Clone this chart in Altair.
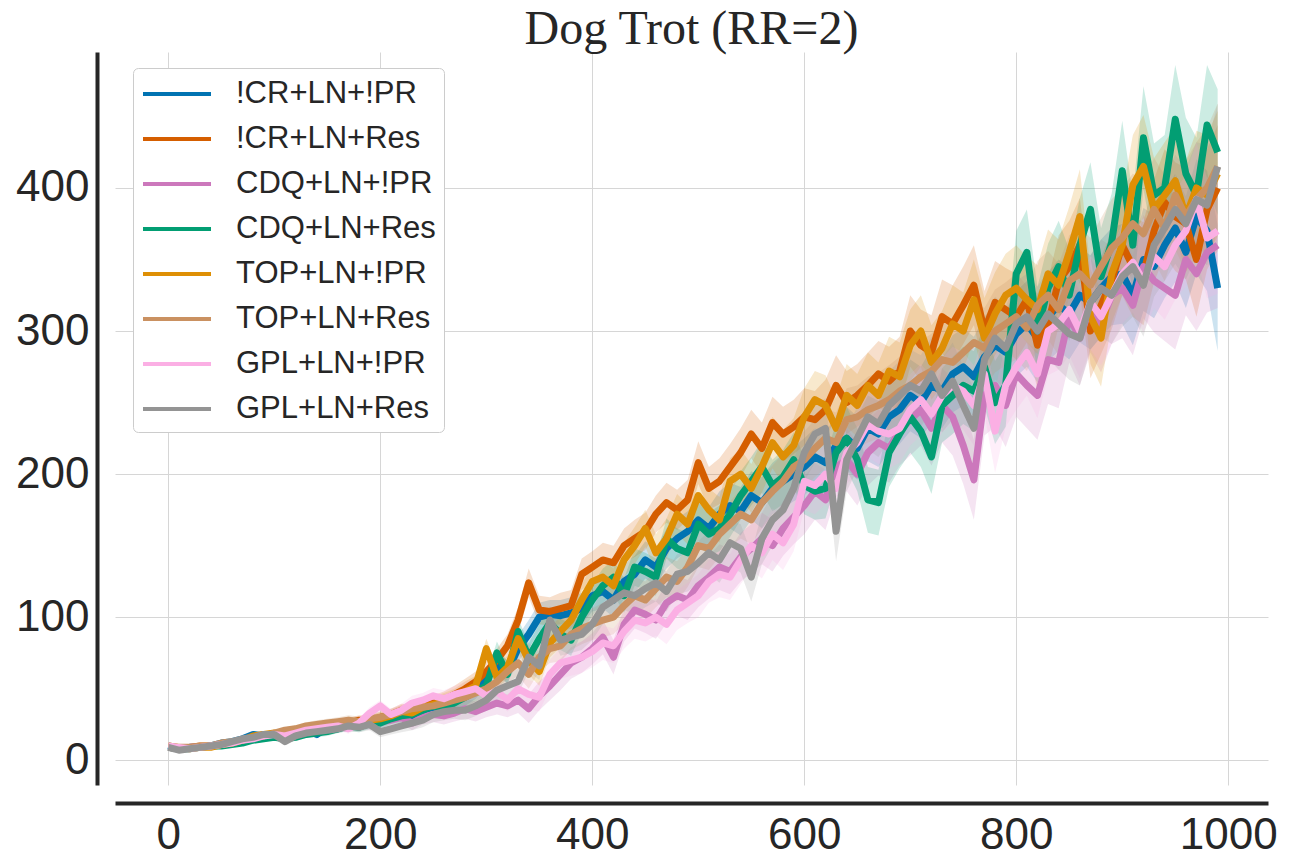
import altair as alt
import pandas as pd

steps = list(range(0, 1000, 10))

series_names = ["!CR+LN+!PR", "!CR+LN+Res", "CDQ+LN+!PR", "CDQ+LN+Res",
                "TOP+LN+!PR", "TOP+LN+Res", "GPL+LN+!PR", "GPL+LN+Res"]
series_colors = ["#0173b2", "#d55e00", "#cc78bc", "#029e73",
                 "#de8f05", "#ca9161", "#fbafe4", "#949494"]

cr_pr = [10, 8, 9, 9, 10, 12, 13, 15, 18, 17,
         18, 17, 20, 22, 18, 23, 22, 26, 24, 28,
         27, 30, 33, 31, 35, 37, 38, 41, 45, 50,
         58, 66, 62, 78, 88, 100, 102, 101, 103, 106,
         115, 118, 112, 125, 130, 140, 135, 148, 155, 160,
         168, 162, 172, 178, 174, 185, 180, 190, 195, 200,
         205, 212, 208, 220, 225, 218, 232, 228, 240, 245,
         255, 250, 262, 258, 270, 275, 268, 282, 290, 285,
         298, 305, 295, 310, 318, 312, 325, 320, 330, 338,
         340, 325, 350, 345, 360, 372, 355, 380, 370, 330]

cr_res = [9, 8, 9, 10, 10, 11, 12, 14, 16, 18,
          18, 19, 20, 22, 21, 24, 23, 26, 28, 27,
          30, 32, 35, 34, 38, 40, 42, 46, 50, 55,
          62, 70, 80, 98, 124, 105, 104, 106, 108, 130,
          135, 140, 138, 150, 155, 160, 172, 180, 175, 182,
          208, 190, 195, 205, 215, 228, 218, 236, 228, 233,
          240, 238, 245, 262, 250, 255, 262, 270, 265, 272,
          300, 290, 285, 310, 305, 318, 332, 300, 320, 315,
          310, 322, 290, 305, 335, 345, 360, 300, 318, 335,
          360, 345, 340, 370, 390, 380, 375, 350, 385, 400]

cdq_pr = [9, 8, 9, 9, 10, 11, 12, 14, 15, 16,
          17, 18, 19, 20, 21, 22, 24, 23, 26, 25,
          27, 28, 30, 26, 30, 32, 31, 33, 36, 34,
          37, 40, 38, 42, 36, 45, 52, 60, 68, 72,
          78, 86, 72, 95, 105, 102, 98, 110, 115, 112,
          122, 128, 135, 132, 142, 148, 155, 150, 162, 170,
          178, 188, 182, 205, 210, 200, 215, 222, 218, 230,
          238, 245, 232, 248, 240, 220, 196, 255, 262, 248,
          270, 262, 255, 280, 278, 310, 295, 318, 305, 325,
          330, 318, 345, 335, 330, 325, 350, 340, 355, 360]

cdq_res = [9, 8, 8, 9, 10, 10, 11, 12, 14, 15,
           16, 15, 16, 18, 19, 20, 22, 24, 23, 26,
           26, 29, 31, 32, 35, 38, 36, 40, 44, 48,
           52, 75, 60, 90, 72, 85, 96, 88, 84, 100,
           112, 122, 128, 115, 135, 132, 128, 155, 148, 145,
           165, 158, 162, 172, 185, 195, 205, 192, 198, 210,
           192, 188, 190, 215, 225, 210, 182, 180, 215, 228,
           240, 230, 212, 248, 255, 262, 258, 275, 250, 262,
           340, 355, 300, 330, 345, 325, 360, 385, 338, 362,
           412, 360, 435, 395, 400, 448, 410, 395, 444, 425]

top_pr = [10, 9, 8, 9, 9, 11, 12, 14, 17, 18,
          19, 18, 21, 22, 23, 24, 25, 27, 26, 28,
          29, 31, 34, 33, 37, 39, 41, 44, 48, 52,
          78, 58, 65, 85, 70, 62, 82, 90, 98, 112,
          125, 128, 122, 140, 150, 162, 145, 155, 172, 165,
          185, 175, 168, 195, 200, 190, 205, 222, 212, 220,
          240, 252, 248, 232, 255, 248, 262, 255, 272, 268,
          290, 300, 278, 288, 305, 300, 322, 295, 312, 325,
          330, 322, 315, 340, 332, 355, 380, 310, 295, 340,
          360, 402, 415, 385, 395, 405, 380, 400, 395, 410]

top_res = [10, 9, 9, 10, 10, 12, 13, 14, 16, 17,
           19, 21, 22, 24, 25, 26, 27, 28, 27, 29,
           30, 32, 34, 36, 37, 38, 40, 42, 44, 47,
           50, 55, 62, 68, 60, 72, 78, 80, 88, 92,
           95, 98, 100, 108, 115, 112, 120, 128, 125, 135,
           150, 148, 158, 165, 172, 168, 180, 188, 195, 205,
           210, 218, 225, 222, 238, 240, 245, 248, 252, 258,
           262, 268, 272, 280, 278, 285, 292, 288, 300, 305,
           310, 302, 318, 325, 315, 335, 340, 332, 345, 358,
           365, 375, 368, 385, 372, 395, 380, 392, 400, 415]

gpl_pr = [10, 9, 8, 9, 10, 11, 12, 14, 15, 17,
          18, 17, 19, 21, 22, 23, 24, 22, 26, 33,
          38, 32, 35, 40, 42, 45, 43, 46, 48, 50,
          45, 48, 42, 50, 46, 44, 60, 68, 70, 72,
          76, 82, 80, 90, 98, 96, 100, 95, 105, 110,
          115, 125, 130, 128, 140, 150, 145, 158, 152, 165,
          195, 192, 200, 190, 215, 222, 235, 230, 228, 232,
          245, 252, 242, 255, 262, 258, 248, 270, 230, 262,
          275, 285, 270, 300, 305, 315, 300, 320, 310, 325,
          340, 348, 335, 352, 345, 360, 370, 392, 365, 370]

gpl_res = [9, 7, 8, 9, 10, 11, 13, 15, 16, 18,
           18, 13, 17, 19, 20, 21, 22, 24, 23, 25,
           20, 22, 24, 26, 28, 32, 34, 35, 35, 38,
           42, 49, 52, 55, 72, 66, 98, 84, 86, 88,
           95, 107, 112, 117, 115, 120, 124, 118, 130, 132,
           138, 145, 140, 152, 148, 128, 155, 168, 175, 190,
           215, 228, 232, 160, 210, 225, 240, 235, 248, 255,
           262, 258, 270, 255, 265, 248, 232, 280, 295, 288,
           305, 310, 300, 312, 305, 298, 295, 320, 330, 325,
           338, 345, 332, 360, 372, 385, 375, 392, 388, 415]

band_halfwidth = [1, 1, 1, 1, 1, 1.5, 1.5, 2, 2, 2,
                  2, 2, 2.5, 2.5, 3, 3, 3, 3.5, 3.5, 4,
                  4, 4, 4.5, 5, 5, 5.5, 6, 6, 7, 7,
                  7, 8, 8, 9, 10, 10, 10, 11, 11, 11,
                  11, 12, 12, 12, 13, 13, 13, 14, 14, 14,
                  15, 15, 16, 16, 17, 17, 18, 18, 19, 19,
                  20, 20, 21, 21, 22, 22, 23, 23, 24, 24,
                  25, 25, 26, 26, 27, 27, 28, 28, 29, 29,
                  30, 30, 31, 31, 32, 32, 33, 33, 34, 34,
                  35, 35, 36, 36, 37, 38, 39, 40, 42, 44]

all_values = [cr_pr, cr_res, cdq_pr, cdq_res, top_pr, top_res, gpl_pr, gpl_res]

rows = []
for name, vals in zip(series_names, all_values):
    for s, v, h in zip(steps, vals, band_halfwidth):
        rows.append({"step": s, "series": name, "ret": v, "lo": v - h, "hi": v + h})
df = pd.DataFrame(rows)

TXT = "#262626"
FONT = "Liberation Sans"

x_scale = alt.Scale(domain=[-50.3, 1037.5], nice=False, zero=False)
y_scale = alt.Scale(domain=[-17.3, 495], nice=False, zero=False)

x_axis = alt.Axis(values=[0, 200, 400, 600, 800, 1000], title=None, offset=18, format="d",
                  domainWidth=4, domainColor=TXT, ticks=False,
                  labelFontSize=44, labelFont=FONT, labelColor=TXT, labelPadding=10,
                  grid=True, gridColor="#d6d6d6", gridWidth=1)
y_axis = alt.Axis(values=[0, 100, 200, 300, 400], title=None, offset=18, format="d",
                  domainWidth=4, domainColor=TXT, ticks=False,
                  labelFontSize=44, labelFont=FONT, labelColor=TXT, labelPadding=8,
                  grid=True, gridColor="#d6d6d6", gridWidth=1)

color_scale = alt.Scale(domain=series_names, range=series_colors)

legend = alt.Legend(title=None, orient="none", legendX=18, legendY=16,
                    symbolType="M-2.125,0H2.125", symbolSize=1024, symbolStrokeWidth=4,
                    labelFontSize=31, labelFont=FONT, labelColor=TXT, labelLimit=400,
                    fillColor="white", strokeColor="#cccccc", cornerRadius=5,
                    padding=8, rowPadding=12, symbolOffset=18, labelOffset=41)

bands = []
lines = []
for name, col in zip(series_names, series_colors):
    base = alt.Chart(df).transform_filter(alt.datum.series == name)
    bands.append(base.mark_area(opacity=0.2, fill=col).encode(
        x=alt.X("step:Q", scale=x_scale, axis=x_axis),
        y=alt.Y("lo:Q", scale=y_scale, axis=y_axis),
        y2="hi:Q",
    ))
    lines.append(base.mark_line(strokeWidth=7, strokeJoin="round").encode(
        x=alt.X("step:Q", scale=x_scale, axis=x_axis),
        y=alt.Y("ret:Q", scale=y_scale, axis=y_axis),
        color=alt.Color("series:N", scale=color_scale, legend=legend, sort=series_names),
    ))

chart = alt.layer(*(bands + lines)).properties(
    width=1153, height=733,
    title=alt.Title("Dog Trot (RR=2)", fontSize=48, font="Liberation Serif",
                    fontWeight="normal", color=TXT, offset=0, dy=2),
    autosize=alt.AutoSizeParams(type="none"),
    padding={"left": 107, "top": 44, "right": 20, "bottom": 76},
).configure_view(stroke=None)

chart.save("out.html", embed_options={"renderer": "svg", "actions": False})
